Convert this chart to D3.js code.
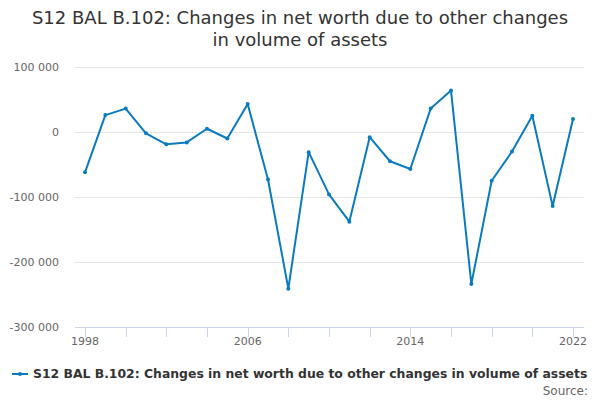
<!DOCTYPE html>
<html><head><meta charset="utf-8">
<script src="https://cdn.jsdelivr.net/npm/d3@7"></script>
<style>body{margin:0;background:#fff;font-family:"DejaVu Sans",sans-serif}</style>
</head><body><svg id="c" width="600" height="400"></svg>
<script>
const years = [1998,1999,2000,2001,2002,2003,2004,2005,2006,2007,2008,2009,2010,2011,2012,2013,2014,2015,2016,2017,2018,2019,2020,2021,2022];
const values = [-62000,26000,36000,-2000,-19000,-16000,5000,-10000,43000,-73000,-241000,-31000,-96000,-138000,-8000,-45000,-57000,36000,64000,-234000,-75000,-30000,25000,-114000,20000];
const yTicks = [-300000,-200000,-100000,0,100000];
const xTickYears = [1998,2000,2002,2004,2006,2008,2010,2012,2014,2016,2018,2020,2022];
const xLabelYears = [1998,2006,2014,2022];
const titleLines = ["S12 BAL B.102: Changes in net worth due to other changes","in volume of assets"];
const seriesName = "S12 BAL B.102: Changes in net worth due to other changes in volume of assets";

const svg = d3.select("#c");
const color = "#0b7bc1";
const x = d3.scaleLinear().domain([1998,2022]).range([85,573]);
const y = d3.scaleLinear().domain([-300000,100000]).range([327,67]);
const fmt = v => v===0 ? "0" : (v<0?"-":"") + d3.format(",")(Math.abs(v)).replace(/,/g," ");

svg.append("g").selectAll("text").data(titleLines).join("text")
  .attr("x",300).attr("y",(d,i)=>24+i*22).attr("text-anchor","middle")
  .attr("font-size",18).attr("fill","#333").text(d=>d);

svg.append("g").selectAll("line").data(yTicks.filter(t=>t>-300000)).join("line")
  .attr("x1",75).attr("x2",584).attr("y1",d=>y(d)+0.5).attr("y2",d=>y(d)+0.5)
  .attr("stroke","#e6e6e6");
svg.append("g").selectAll("text").data(yTicks).join("text")
  .attr("x",59).attr("y",d=>y(d)+4).attr("text-anchor","end")
  .attr("font-size",11).attr("fill","#666").text(fmt);

svg.append("line").attr("x1",75).attr("x2",584).attr("y1",y(-300000)+0.5).attr("y2",y(-300000)+0.5).attr("stroke","#ccd6eb");
svg.append("g").selectAll("line").data(xTickYears).join("line")
  .attr("x1",d=>Math.round(x(d))+0.5).attr("x2",d=>Math.round(x(d))+0.5)
  .attr("y1",y(-300000)).attr("y2",y(-300000)+10).attr("stroke","#ccd6eb");
svg.append("g").selectAll("text").data(xLabelYears).join("text")
  .attr("x",d=>x(d)).attr("y",345).attr("text-anchor","middle")
  .attr("font-size",11).attr("fill","#666").text(d=>d);

const line = d3.line().x((d,i)=>x(years[i])).y(d=>y(d));
svg.append("path").datum(values).attr("d",line).attr("fill","none")
  .attr("stroke",color).attr("stroke-width",2).attr("stroke-linejoin","round");
svg.append("g").selectAll("circle").data(values).join("circle")
  .attr("cx",(d,i)=>x(years[i])).attr("cy",d=>y(d)).attr("r",2).attr("fill",color);

svg.append("line").attr("x1",12).attr("x2",28).attr("y1",374).attr("y2",374).attr("stroke",color).attr("stroke-width",2);
svg.append("circle").attr("cx",20).attr("cy",374).attr("r",2).attr("fill",color);
svg.append("text").attr("x",33).attr("y",378).attr("font-size",12.4).attr("font-weight","bold").attr("fill","#333").text(seriesName);
svg.append("text").attr("x",588).attr("y",395).attr("text-anchor","end").attr("font-size",12).attr("fill","#666").text("Source:");
</script></body></html>
